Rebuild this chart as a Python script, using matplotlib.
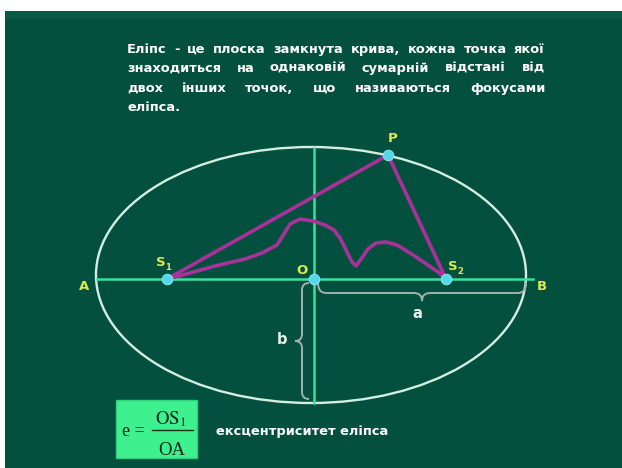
import matplotlib
matplotlib.use("Agg")
import matplotlib.pyplot as plt
from matplotlib.patches import Ellipse, Rectangle, PathPatch
from matplotlib.path import Path

# ---- data (pixel units) ----
text_lines = [
    "Еліпс - це плоска замкнута крива, кожна точка якої",
    "знаходиться на однаковій сумарній відстані від",
    "двох інших точок, що називаються фокусами",
    "еліпса.",
]
line_baselines = [53, 72, 92, 111]
justify = [True, True, True, False]
caption = "ексцентриситет еліпса"

ellipse_center = (311, 275)
ellipse_a = 215
ellipse_b = 128

axis_y = 279
axis_x = 314
h_axis_range = (97, 533)
v_axis_range = (148, 403)

point_names = ["S1", "S2", "P", "O"]
point_x = [167, 446, 388, 314]
point_y = [279, 279, 155, 279]

curve_x = [167, 190, 215, 245, 262, 277, 284, 290, 300, 313, 325, 334, 340,
           346, 352, 356, 361, 368, 376, 386, 397, 410, 425, 438, 446]
curve_y = [279, 273, 266, 259, 253, 245, 234, 224, 219, 221, 225, 230, 238,
           250, 262, 266, 259, 249, 243, 242, 245, 253, 263, 272, 279]

label_text = ["A", "B", "P", "O"]
label_x = [84, 542, 393, 302]
label_y = [287, 287, 138, 271]

BG = "#04503E"
AXIS = "#38E29A"
ELL = "#D4EEE2"
PURPLE = "#A8329A"
CYAN = "#55D6EA"
YELLOW = "#DDEB4E"
GRAY = "#A3B2AA"
FONT = "DejaVu Sans"

W, H = 622, 468
fig = plt.figure(figsize=(W / 100, H / 100), dpi=100)
fig.patch.set_facecolor("white")
ax = fig.add_axes([0, 0, 1, 1])
ax.set_xlim(0, W)
ax.set_ylim(H, 0)
ax.axis("off")
renderer = fig.canvas.get_renderer()

# slide background
ax.add_patch(Rectangle((5, 11), W - 5, H - 11, facecolor=BG, edgecolor="none", zorder=0))
ax.add_patch(Rectangle((5, 11), W - 5, 8, facecolor="#085A47", edgecolor="none", zorder=0.5))

# ellipse
ax.add_patch(Ellipse(ellipse_center, 2 * ellipse_a, 2 * ellipse_b, facecolor="none",
                     edgecolor=ELL, lw=1.7, zorder=2))
# axes
ax.plot(h_axis_range, [axis_y, axis_y], color=AXIS, lw=1.8, zorder=3)
ax.plot([axis_x, axis_x], v_axis_range, color=AXIS, lw=1.8, zorder=3)

# braces
def brace_h(x0, x1, y0, d, t, r):
    xm = (x0 + x1) / 2
    verts = [(x0, y0), (x0, y0 + d), (x0 + r, y0 + d),
             (xm - r, y0 + d), (xm, y0 + d), (xm, y0 + d + t),
             (xm, y0 + d), (xm + r, y0 + d),
             (x1 - r, y0 + d), (x1, y0 + d), (x1, y0)]
    codes = [Path.MOVETO, Path.CURVE3, Path.CURVE3, Path.LINETO, Path.CURVE3, Path.CURVE3,
             Path.CURVE3, Path.CURVE3, Path.LINETO, Path.CURVE3, Path.CURVE3]
    return Path(verts, codes)

def brace_v(y0, y1, x0, d, t, r):
    ym = (y0 + y1) / 2
    verts = [(x0, y0), (x0 - d, y0), (x0 - d, y0 + r),
             (x0 - d, ym - r), (x0 - d, ym), (x0 - d - t, ym),
             (x0 - d, ym), (x0 - d, ym + r),
             (x0 - d, y1 - r), (x0 - d, y1), (x0, y1)]
    codes = [Path.MOVETO, Path.CURVE3, Path.CURVE3, Path.LINETO, Path.CURVE3, Path.CURVE3,
             Path.CURVE3, Path.CURVE3, Path.LINETO, Path.CURVE3, Path.CURVE3]
    return Path(verts, codes)

ax.add_patch(PathPatch(brace_h(318, 526, 283, 10, 8, 8), facecolor="none", edgecolor=GRAY, lw=1.4, zorder=2))
ax.add_patch(PathPatch(brace_v(283, 399, 309, 7, 7, 7), facecolor="none", edgecolor=GRAY, lw=1.4, zorder=2))
ax.text(417, 313, "a", color="#E8F0EC", fontsize=10.5, fontweight="bold", family=FONT,
        ha="center", va="center", zorder=5)
ax.text(282, 340, "b", color="#E8F0EC", fontsize=10.5, fontweight="bold", family=FONT,
        ha="center", va="center", zorder=5)

# purple triangle and wavy path
s1 = (point_x[0], point_y[0]); s2 = (point_x[1], point_y[1]); p = (point_x[2], point_y[2])
ax.plot([s1[0], p[0], s2[0]], [s1[1], p[1], s2[1]], color=PURPLE, lw=2.6, zorder=4,
        solid_joinstyle="round")
ax.plot(curve_x, curve_y, color=PURPLE, lw=2.6, zorder=4, solid_joinstyle="round")

# points
ax.plot(point_x, point_y, "o", color=CYAN, ms=7.5, mec="#7FE6F2", mew=0.8, zorder=6)

# labels
for t, x, y in zip(label_text, label_x, label_y):
    ax.text(x, y, t, color=YELLOW, fontsize=9.5, fontweight="bold", family=FONT,
            ha="center", va="center", zorder=7)
ax.text(161, 263, "S", color=YELLOW, fontsize=9.5, fontweight="bold", family=FONT,
        ha="center", va="center", zorder=7)
ax.text(168, 267, "1", color=YELLOW, fontsize=6, fontweight="bold", family=FONT,
        ha="center", va="center", zorder=7)
ax.text(453, 267, "S", color=YELLOW, fontsize=9.5, fontweight="bold", family=FONT,
        ha="center", va="center", zorder=7)
ax.text(460, 271, "2", color=YELLOW, fontsize=6, fontweight="bold", family=FONT,
        ha="center", va="center", zorder=7)

# fit body font size so that the caption spans its width in the reference (~173 px)
probe = ax.text(0, 0, caption, fontsize=10, fontweight="bold", family=FONT)
fs = 10 * 173 / probe.get_window_extent(renderer).width
probe.remove()

# justified paragraph
left, right = 127, 545
for line, yb, just in zip(text_lines, line_baselines, justify):
    words = line.split(" ")
    objs = [ax.text(0, yb, w, color="white", fontsize=fs, fontweight="bold",
                    family=FONT, ha="left", va="baseline", zorder=7) for w in words]
    widths = [o.get_window_extent(renderer).width for o in objs]
    if just and len(words) > 1:
        gap = (right - left - sum(widths)) / (len(words) - 1)
    else:
        gap = fs * 0.45
    x = left
    for o, w in zip(objs, widths):
        o.set_x(round(x))
        x += w + gap

# formula box
ax.add_patch(Rectangle((116, 400), 81, 58, facecolor="#3FF08F", edgecolor="#2FD07A", lw=1, zorder=5))
ax.text(122, 431, "e =", color="#0B2A1A", fontsize=13, family="Liberation Serif",
        ha="left", va="center", zorder=6)
ax.plot([152, 193], [430, 430], color="#0B2A1A", lw=1.0, zorder=6)
ax.text(171, 424, r"$\mathrm{OS_1}$", color="#0B2A1A", fontsize=13.5, family="Liberation Serif",
        math_fontfamily="stix", ha="center", va="baseline", zorder=6)
ax.text(172, 455, "OA", color="#0B2A1A", fontsize=13.5, family="Liberation Serif",
        ha="center", va="baseline", zorder=6)

ax.text(216, 431, caption, color="white", fontsize=fs, fontweight="bold",
        family=FONT, ha="left", va="center", zorder=7)

fig.savefig("out.png", dpi=100, facecolor="white")
